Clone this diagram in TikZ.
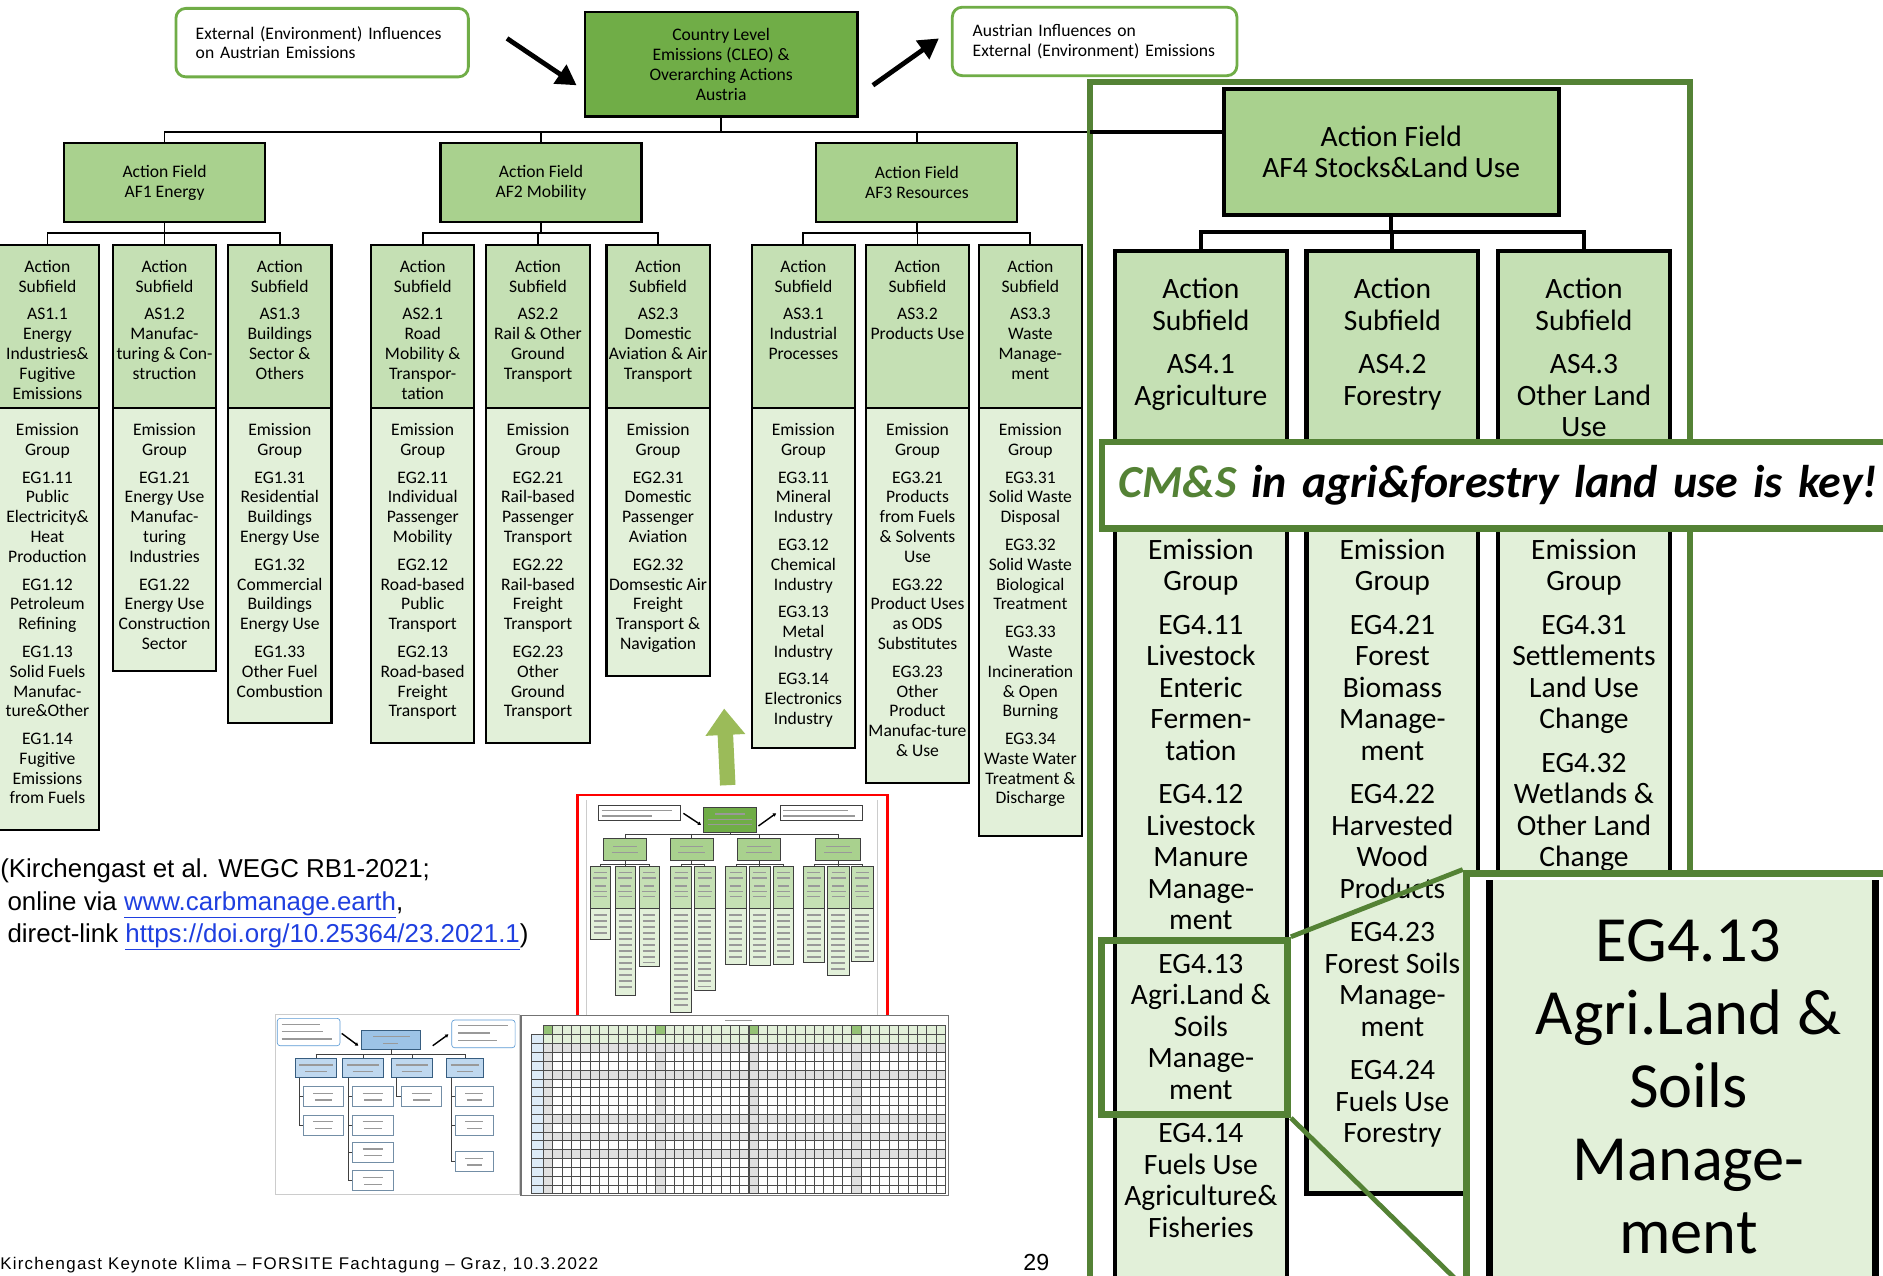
\documentclass[tikz,border=0pt]{standalone}
\usepackage{fontspec}
\usepackage{xcolor}
\usetikzlibrary{
    positioning,
    calc,
    arrows.meta
}
\setmainfont{Carlito}
\newfontfamily\citefont{Liberation Sans}
\newfontfamily\footfont[LetterSpace=7.5]{Liberation Sans}

\definecolor{LeafGreen}{HTML}{70AD47}
\definecolor{FieldGreen}{HTML}{A9D18E}
\definecolor{SubGreen}{HTML}{C5E0B4}
\definecolor{GroupGreen}{HTML}{E2F0D9}
\definecolor{FrameGreen}{HTML}{548235}
\definecolor{LiftGreen}{HTML}{9BBB59}
\definecolor{ThumbRed}{HTML}{FF0000}
\definecolor{LinkBlue}{HTML}{1F3FE0}
\definecolor{SkyBlue}{HTML}{5B9BD5}
\definecolor{InstBlue}{HTML}{9DC3E6}
\definecolor{PaleBlue}{HTML}{DDEBF7}

% one drawing unit = 0.03cm
\newdimen\pxu
\pxu=0.03cm
\newcommand{\basesize}{\fontsize{12.5}{14.1}\selectfont}
\newcommand{\zoomsize}{\fontsize{21}{22.4}\selectfont}
\newcommand{\giantsize}{\fontsize{45.8}{52}\selectfont}
\newcommand{\grp}{\\[5.5pt]}
\newcommand{\bgrp}{\\[8.5pt]}
% column bodies: height in units, text top aligned
\newcommand{\colcell}[2]{\parbox[t][#1\pxu][t]{86\pxu}{\basesize\centering\vspace*{11pt}#2}}
\newcommand{\bigcell}[2]{\parbox[t][#1\pxu][t]{143\pxu}{\zoomsize\centering\vspace*{19.5pt}#2}}
\newcommand{\weblink}[1]{\textcolor{LinkBlue}{\underline{#1}}}

\begin{document}
\begin{tikzpicture}[
                x=0.03cm, y=-0.03cm,
                every node/.style={align=center},
                influencebox/.style={draw=LeafGreen, fill=white, line width=2pt, rounded corners=7pt, minimum height=1.71cm, align=left, font=\basesize},
                topbox/.style={draw=black, fill=LeafGreen, line width=1.5pt, minimum width=6.81cm, minimum height=2.61cm, font=\basesize},
                fieldbox/.style={draw=black, fill=FieldGreen, line width=1.5pt, minimum width=5.02cm, minimum height=1.98cm, font=\basesize},
                bigfield/.style={draw=black, fill=FieldGreen, line width=3pt, minimum width=8.37cm, minimum height=3.15cm, font=\zoomsize},
                subbox/.style={draw=black, fill=SubGreen, line width=1.5pt, inner sep=0pt, anchor=north},
                groupbox/.style={subbox, fill=GroupGreen},
                bigsub/.style={subbox, line width=3pt},
                biggroup/.style={groupbox, line width=3pt},
                branch/.style={line width=1.3pt},
                bigbranch/.style={line width=2.8pt},
                pointer/.style={line width=3.4pt, -{Triangle[length=0.5cm,width=0.55cm]}},
                lift/.style={draw=LiftGreen, line width=11pt, -{Triangle[length=0.66cm,width=0.95cm]}},
                greenline/.style={draw=FrameGreen, line width=5pt},
                minibox/.style={draw=black!75, line width=0.45pt},
                minitext/.style={draw=black!40, line width=0.9pt},
                minipointer/.style={line width=1pt, -{Triangle[length=2.2pt,width=2.6pt]}},
                gridline/.style={draw=black!70, line width=0.35pt}
            ]

                \useasboundingbox (0,0) rectangle (1568,1062);
                \clip (0,0) rectangle (1568,1062);
                \fill[white] (0,0) rectangle (1568,1062);

                % country level and influences
                \node[influencebox, text width=6.315cm, inner xsep=0.495cm] (ext) at (268.25,35.5) {
                    External (Environment) Influences\\
                    on Austrian Emissions
                };
                \node[topbox] (cleo) at (600.5,53.5) {
                    Country Level\\
                    Emissions (CLEO) \&\\
                    Overarching Actions\\
                    Austria
                };
                \node[influencebox, text width=6.09cm, inner xsep=0.51cm] (aus) at (911.5,34.5) {
                    Austrian Influences on\\
                    External (Environment) Emissions
                };

                \draw[pointer] ($(ext.east)+(31,-3.5)$) -- ($(cleo.west)+(-6,17.5)$);
                \draw[pointer] ($(cleo.east)+(12,17.5)$) -- ($(aus.west)+(-10,-2.5)$);

                % action fields
                \node[fieldbox] (af1) at (137,152) {Action Field\\AF1 Energy};
                \node[fieldbox] (af2) at (450.5,152) {Action Field\\AF2 Mobility};
                \node[fieldbox] (af3) at (763.5,152) {Action Field\\AF3 Resources};

                % subfields
                \node[subbox] (as11) at (39.5,203) {\colcell{136}{Action\\Subfield\grp AS1.1\\Energy\\Industries\&\\Fugitive\\Emissions}};
                \node[subbox] (as12) at (137,203) {\colcell{136}{Action\\Subfield\grp AS1.2\\Manufac-\\turing \& Con-\\struction}};
                \node[subbox] (as13) at (233,203) {\colcell{136}{Action\\Subfield\grp AS1.3\\Buildings\\Sector \&\\Others}};
                \node[subbox] (as21) at (352,203) {\colcell{136}{Action\\Subfield\grp AS2.1\\Road\\Mobility \&\\Transpor-\\tation}};
                \node[subbox] (as22) at (448,203) {\colcell{136}{Action\\Subfield\grp AS2.2\\Rail \& Other\\Ground\\Transport}};
                \node[subbox] (as23) at (548,203) {\colcell{136}{Action\\Subfield\grp AS2.3\\Domestic\\Aviation \& Air\\Transport}};
                \node[subbox] (as31) at (669,203) {\colcell{136}{Action\\Subfield\grp AS3.1\\Industrial\\Processes}};
                \node[subbox] (as32) at (764,203) {\colcell{136}{Action\\Subfield\grp AS3.2\\Products Use}};
                \node[subbox] (as33) at (858,203) {\colcell{136}{Action\\Subfield\grp AS3.3\\Waste\\Manage-\\ment}};

                % emission groups
                \node[groupbox] (eg11) at (39.5,339) {\colcell{351}{Emission\\Group\grp EG1.11\\Public\\Electricity\&\\Heat\\Production\grp EG1.12\\Petroleum\\Refining\grp EG1.13\\Solid Fuels\\Manufac-\\ture\&Other\grp EG1.14\\Fugitive\\Emissions\\from Fuels}};
                \node[groupbox] (eg12) at (137,339) {\colcell{219}{Emission\\Group\grp EG1.21\\Energy Use\\Manufac-\\turing\\Industries\grp EG1.22\\Energy Use\\Construction\\Sector}};
                \node[groupbox] (eg13) at (233,339) {\colcell{262}{Emission\\Group\grp EG1.31\\Residential\\Buildings\\Energy Use\grp EG1.32\\Commercial\\Buildings\\Energy Use\grp EG1.33\\Other Fuel\\Combustion}};
                \node[groupbox] (eg21) at (352,339) {\colcell{279}{Emission\\Group\grp EG2.11\\Individual\\Passenger\\Mobility\grp EG2.12\\Road-based\\Public\\Transport\grp EG2.13\\Road-based\\Freight\\Transport}};
                \node[groupbox] (eg22) at (448,339) {\colcell{279}{Emission\\Group\grp EG2.21\\Rail-based\\Passenger\\Transport\grp EG2.22\\Rail-based\\Freight\\Transport\grp EG2.23\\Other\\Ground\\Transport}};
                \node[groupbox] (eg23) at (548,339) {\colcell{223}{Emission\\Group\grp EG2.31\\Domestic\\Passenger\\Aviation\grp EG2.32\\Domsestic Air\\Freight\\Transport \&\\Navigation}};
                \node[groupbox] (eg31) at (669,339) {\colcell{283}{Emission\\Group\grp EG3.11\\Mineral\\Industry\grp EG3.12\\Chemical\\Industry\grp EG3.13\\Metal\\Industry\grp EG3.14\\Electronics\\Industry}};
                \node[groupbox] (eg32) at (764,339) {\colcell{312}{Emission\\Group\grp EG3.21\\Products\\from Fuels\\\& Solvents\\Use\grp EG3.22\\Product Uses\\as ODS\\Substitutes\grp EG3.23\\Other\\Product\\Manufac-ture\\\& Use}};
                \node[groupbox] (eg33) at (858,339) {\colcell{356}{Emission\\Group\grp EG3.31\\Solid Waste\\Disposal\grp EG3.32\\Solid Waste\\Biological\\Treatment\grp EG3.33\\Waste\\Incineration\\\& Open\\Burning\grp EG3.34\\Waste Water\\Treatment \&\\Discharge}};

                % tree lines
                \coordinate (gate) at (908,110);
                \draw[branch] (cleo.south) -- (cleo.south |- gate);
                \draw[branch] (af1.north) |- (gate);
                \draw[branch] (af2.north) -- (af2.north |- gate);
                \draw[branch] (af3.north) -- (af3.north |- gate);
                \foreach \up/\down in {af1/as11,af1/as12,af1/as13,af2/as21,af2/as22,af2/as23,af3/as31,af3/as32,af3/as33}
                    \draw[branch] (\up.south) |- ($(\down.north)+(0,-9)$) -- (\down.north);

                % enlarged AF4 panel
                \node[draw=FrameGreen, line width=4.3pt, minimum width=14.97cm, minimum height=30.21cm] (fieldframe) at (1157.5,571.5) {};
                \node[bigfield] (af4) at (1158.5,126.5) {Action Field\\AF4 Stocks\&Land Use};
                \draw[bigbranch] (gate) -- (af4.west |- gate);

                \node[bigsub] (as41) at (1000,207) {\bigcell{217}{Action\\Subfield\bgrp AS4.1\\Agriculture}};
                \node[bigsub] (as42) at (1159.5,207) {\bigcell{217}{Action\\Subfield\bgrp AS4.2\\Forestry}};
                \node[bigsub] (as43) at (1319,207) {\bigcell{217}{Action\\Subfield\bgrp AS4.3\\Other Land\\Use}};
                \foreach \down in {as41,as42,as43}
                    \draw[bigbranch] (af4.south) |- ($(\down.north)+(0,-14)$) -- (\down.north);

                \node[biggroup] (eg41) at (1000,424) {\bigcell{656}{Emission\\Group\bgrp EG4.11\\Livestock\\Enteric\\Fermen-\\tation\bgrp EG4.12\\Livestock\\Manure\\Manage-\\ment\bgrp EG4.13\\Agri.Land \&\\Soils\\Manage-\\ment\bgrp EG4.14\\Fuels Use\\Agriculture\&\\Fisheries}};
                \node[biggroup] (eg42) at (1159.5,424) {\bigcell{568}{Emission\\Group\bgrp EG4.21\\Forest\\Biomass\\Manage-\\ment\bgrp EG4.22\\Harvested\\Wood\\Products\bgrp EG4.23\\Forest Soils\\Manage-\\ment\bgrp EG4.24\\Fuels Use\\Forestry}};
                \node[biggroup] (eg43) at (1319,424) {\bigcell{656}{Emission\\Group\bgrp EG4.31\\Settlements\\Land Use\\Change\bgrp EG4.32\\Wetlands \&\\Other Land\\Change}};

                % key message
                \node[draw=FrameGreen, fill=white, line width=4.5pt, minimum height=2.16cm,
                      text width=20cm, inner xsep=0.42cm, align=left,
                      font=\fontsize{32.6}{38}\selectfont\bfseries\itshape] (headline) at (1265,404) {
                    \textcolor{FrameGreen}{CM\&S} in agri\&forestry land use is key!
                };

                % magnified group
                \node[greenline, minimum width=4.65cm, minimum height=4.35cm] (focus) at (994.5,855.5) {};
                \node[greenline, fill=white, minimum width=10.77cm, minimum height=10.23cm] (zoomview) at (1400.5,897.5) {};
                \fill[GroupGreen] (1240,733) rectangle (1562,1068);
                \draw[line width=5pt] (1240,733) -- (1240,1068) (1562,733) -- (1562,1068);
                \node[font=\giantsize, inner sep=0pt] (zoomtext) at (1406,905) {EG4.13\\Agri.Land \&\\Soils\\Manage-\\ment};
                \draw[greenline, line width=3.4pt] (focus.north east) -- (zoomview.north west);
                \draw[greenline, line width=3.4pt] (focus.south east) -- (zoomview.south west);

                % reference
                \node[anchor=north west, inner sep=0pt, align=left, font=\citefont\fontsize{18.4}{23}\selectfont] (source) at (0,715) {
                    (Kirchengast et al. WEGC RB1-2021;\\
                    \hspace*{0.28em}online via \weblink{www.carbmanage.earth},\\
                    \hspace*{0.28em}direct-link \weblink{https://doi.org/10.25364/23.2021.1})
                };

                % small tree of the full system
                \begin{scope}[shift={(478.8,657.8)}, x=0.008328cm, y=-0.008328cm]
                    \draw[black!20, line width=0.4pt] (35,30) -- (35,675) (905,30) -- (905,675);
                    \draw[minibox, fill=white] (70,45) rectangle (315,92) (615,45) rectangle (860,92);
                    \draw[minitext] (80,62) -- (290,62) (80,78) -- (230,78) (625,62) -- (820,62) (625,78) -- (840,78);
                    \draw[minibox, fill=LeafGreen] (385,52) rectangle (545,127);
                    \draw[minitext] (420,72) -- (510,72) (400,88) -- (530,88) (400,104) -- (530,104);
                    \draw[minipointer] (325,70) -- (378,105);
                    \draw[minipointer] (550,108) -- (603,70);
                    \draw[minibox] (465,127) -- (465,132) (150,132) -- (788.5,132);
                    \foreach \l/\r in {85/215,285/415,487/617,722/855}{
                        \draw[minibox] ({(\l+\r)/2},132) -- ({(\l+\r)/2},145);
                        \draw[minibox, fill=FieldGreen] (\l,145) rectangle (\r,212);
                        \draw[minitext] (\l+30,170) -- (\r-30,170) (\l+25,188) -- (\r-25,188);
                    }
                    \foreach \c/\a/\b in {150/76/222,350/318.5/389,552/482.5/625.5,788.5/716.5/861.5}
                        \draw[minibox] (\c,212) -- (\c,222) (\a,222) -- (\b,222);
                    \foreach \l/\r/\b in {45/107/447,120/182/615,192/252/528,287/350/668,358/420/600,452/513/522,522/585/525,595/656/522,685/748/518,758/822/555,830/893/513}{
                        \draw[minibox] ({(\l+\r)/2},222) -- ({(\l+\r)/2},230);
                        \draw[minibox, fill=SubGreen] (\l,230) rectangle (\r,355);
                        \draw[minibox, fill=GroupGreen] (\l,355) rectangle (\r,\b);
                        \draw[minitext] (\l+12,248) -- (\r-12,248) (\l+10,264) -- (\r-10,264)
                                        (\l+14,288) -- (\r-14,288) (\l+10,304) -- (\r-10,304) (\l+12,320) -- (\r-12,320);
                        \begin{scope}
                            \clip (\l,355) rectangle (\r,\b-12);
                            \foreach \y in {375,393,...,680}
                                \draw[minitext] (\l+11,\y) -- (\r-11,\y);
                        \end{scope}
                    }
                \end{scope}
                \node[draw=ThumbRed, line width=2pt, minimum width=7.74cm, minimum height=5.55cm] (thumb) at (610,754.5) {};
                \coordinate (liftend) at (603,590);
                \draw[lift] ($(thumb.north)+(-4,-7)$) -- (liftend);

                % small tree of an institution
                \begin{scope}[shift={(224.8,836.9)}, x=0.008328cm, y=-0.008328cm]
                    \fill[white] (15,28) rectangle (748,567);
                    \draw[black!20, line width=0.5pt] (15,28) rectangle (748,567);
                    \draw[minibox, draw=SkyBlue, fill=white, rounded corners=2pt] (22,40) rectangle (210,122) (545,45) rectangle (735,128);
                    \draw[minitext] (35,58) -- (150,58) (35,80) -- (160,80) (35,102) -- (185,102)
                                    (565,62) -- (715,62) (565,84) -- (660,84) (565,106) -- (680,106);
                    \draw[minibox, draw=SkyBlue!60!black, fill=InstBlue] (275,75) rectangle (450,133);
                    \draw[minitext] (310,95) -- (420,95) (340,115) -- (385,115);
                    \draw[minipointer] (215,85) -- (265,122);
                    \draw[minipointer] (488,122) -- (535,88);
                    \draw[minibox] (362.5,133) -- (362.5,148) (137,148) -- (585,148);
                    \foreach \l/\r in {75/200,218/340,365/487,530/640}{
                        \draw[minibox] ({(\l+\r)/2},148) -- ({(\l+\r)/2},160);
                        \draw[minibox, draw=SkyBlue!60!black, fill=InstBlue!65] (\l,160) rectangle (\r,218);
                        \draw[minitext] (\l+12,180) -- (\r-12,180) (\l+30,200) -- (\r-30,200);
                    }
                    \draw[minibox] (88,218) -- (88,360) (235,218) -- (235,526) (380,218) -- (380,275) (545,218) -- (545,470);
                    \foreach \s/\l/\r/\t in {88/100/220/245,88/100/220/330,235/248/370/245,235/248/370/330,235/248/370/412,235/248/370/497,380/395/515/245,545/555/670/245,545/555/670/330,545/555/670/440}{
                        \draw[minibox] (\s,\t+30) -- (\l,\t+30);
                        \draw[minibox, draw=SkyBlue!60!black!70, fill=white] (\l,\t) rectangle (\r,\t+60);
                        \draw[minitext] (\l+30,\t+20) -- (\r-30,\t+20) (\l+35,\t+40) -- (\r-35,\t+40);
                    }
                \end{scope}

                % small action matrix
                \begin{scope}[shift={(428.8,836.9)}, x=0.008328cm, y=-0.008328cm]
                    \fill[white] (18,32) rectangle (1300,572);
                    \draw[minitext] (630,47) -- (710,47);
                    \fill[GroupGreen] (85,60) rectangle (1290,115);
                    \foreach \k in {0,12,22,33}
                        \fill[LeafGreen!75] (85+28.02*\k,60) rectangle (113.02+28.02*\k,88);
                    \fill[PaleBlue] (50,88) rectangle (85,565.5);
                    \foreach \j in {0,3,8,10,12}
                        \fill[black!12] (85,115+26.5*\j) rectangle (1290,141.5+26.5*\j);
                    \foreach \k in {0,12,22,33}
                        \fill[black!12] (85+28.02*\k,115) rectangle (113.02+28.02*\k,565.5);
                    \foreach \k in {0,...,43}
                        \draw[gridline] (85+28.02*\k,60) -- (85+28.02*\k,565.5);
                    \foreach \j in {0,...,17}
                        \draw[gridline] (50,115+26.5*\j) -- (1290,115+26.5*\j);
                    \draw[gridline] (85,60) -- (1290,60) (50,88) -- (1290,88) (50,88) -- (50,565.5);
                    \foreach \k in {0,12,22,33}
                        \draw[gridline, line width=0.9pt] (85+28.02*\k,60) -- (85+28.02*\k,565.5);
                    \draw[gridline, line width=0.9pt] (50,115) -- (1290,115);
                    \draw[black!55, line width=0.8pt] (18,32) rectangle (1300,572);
                \end{scope}

                % footer
                \node[anchor=base west, inner sep=0pt, font=\footfont\fontsize{12}{14}\selectfont] (footer) at (0,1057) {Kirchengast Keynote Klima – FORSITE Fachtagung – Graz, 10.3.2022};
                \node[font=\citefont\fontsize{16.5}{18}\selectfont] (pageno) at (863,1051) {29};

            \end{tikzpicture}
\end{document}
